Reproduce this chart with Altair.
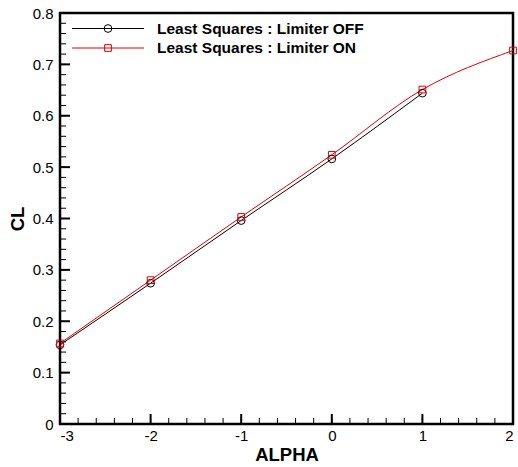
import altair as alt
import numpy as np
import pandas as pd

# Lift coefficient vs angle of attack for the two reconstruction settings
alpha_off = [-3, -2, -1, 0, 1]
cl_off = [0.154, 0.274, 0.396, 0.516, 0.644]

alpha_on = [-3, -2, -1, 0, 1, 2]
cl_on = [0.157, 0.280, 0.403, 0.524, 0.651, 0.727]

series_names = ["Least Squares : Limiter OFF", "Least Squares : Limiter ON"]
series_colors = ["#000000", "#e00000"]

x_major = [-3, -2, -1, 0, 1, 2]
y_major = [0, 0.1, 0.2, 0.3, 0.4, 0.5, 0.6, 0.7, 0.8]
x_minor = [round(v, 2) for v in np.arange(-3, 2.001, 0.2)]
y_minor = [round(v, 2) for v in np.arange(0, 0.801, 0.02)]

W, H = 453, 411
FONT = "Liberation Sans"

off_df = pd.DataFrame({"alpha": alpha_off, "cl": cl_off})
on_df = pd.DataFrame({"alpha": alpha_on, "cl": cl_on})

x_scale = alt.Scale(domain=[-3, 2], nice=False, zero=False)
y_scale = alt.Scale(domain=[0, 0.8], nice=False, zero=False)

x_axis = alt.Axis(values=x_major, labelExpr="datum.value + ''", labelFontSize=15,
                  labelFont=FONT, labelColor="#000", labelPadding=4,
                  title="ALPHA", titleFont=FONT, titleFontSize=18.5,
                  titleFontWeight="bold", titleColor="#000", titlePadding=2)
y_axis = alt.Axis(values=y_major, labelExpr="datum.value + ''", labelFontSize=15,
                  labelFont=FONT, labelColor="#000", labelPadding=7,
                  title="CL", titleFont=FONT, titleFontSize=18.5,
                  titleFontWeight="bold", titleColor="#000", titlePadding=5)

X = alt.X("alpha:Q", scale=x_scale, axis=x_axis)
Y = alt.Y("cl:Q", scale=y_scale, axis=y_axis)

# inward-pointing ticks along the bottom and left frame
xt_major = alt.Chart(pd.DataFrame({"alpha": x_major})).mark_rule(
    color="#000", strokeWidth=2).encode(x=X, y=alt.value(H), y2=alt.value(H - 10))
xt_minor = alt.Chart(pd.DataFrame({"alpha": x_minor})).mark_rule(
    color="#000", strokeWidth=1).encode(x=X, y=alt.value(H), y2=alt.value(H - 6))
yt_major = alt.Chart(pd.DataFrame({"cl": y_major})).mark_rule(
    color="#000", strokeWidth=2).encode(y=Y, x=alt.value(0), x2=alt.value(10))
yt_minor = alt.Chart(pd.DataFrame({"cl": y_minor})).mark_rule(
    color="#000", strokeWidth=1).encode(y=Y, x=alt.value(0), x2=alt.value(6))

line_off = alt.Chart(off_df).mark_line(
    color=series_colors[0], strokeWidth=1, interpolate="monotone").encode(x=X, y=Y)
pts_off = alt.Chart(off_df).mark_point(
    shape="circle", size=60, filled=False, color=series_colors[0],
    strokeWidth=1, opacity=1).encode(x=X, y=Y)
line_on = alt.Chart(on_df).mark_line(
    color=series_colors[1], strokeWidth=1, interpolate="monotone").encode(x=X, y=Y)
pts_on = alt.Chart(on_df).mark_point(
    shape="square", size=45, filled=False, color=series_colors[1],
    strokeWidth=1, opacity=1).encode(x=X, y=Y)

# legend: line sample with marker, followed by bold label
legend_layers = []
for i, (name, col, shape, size) in enumerate(
        zip(series_names, series_colors, ["circle", "square"], [60, 45])):
    ly = 15.5 + 19.5 * i
    ldf = pd.DataFrame({"label": [name]})
    base = alt.Chart(ldf)
    legend_layers.append(base.mark_rule(color=col, strokeWidth=1).encode(
        x=alt.value(12), x2=alt.value(84), y=alt.value(ly)))
    legend_layers.append(base.mark_point(
        shape=shape, size=size, filled=False, color=col, strokeWidth=1, opacity=1
    ).encode(x=alt.value(48), y=alt.value(ly)))
    legend_layers.append(base.mark_text(
        align="left", baseline="middle", font=FONT, fontSize=15.5,
        fontWeight="bold", color="#000").encode(
        x=alt.value(97), y=alt.value(ly), text="label:N"))

chart = alt.layer(
    xt_minor, xt_major, yt_minor, yt_major,
    line_off, line_on, pts_off, pts_on, *legend_layers
).properties(
    width=W, height=H,
    autosize=alt.AutoSizeParams(type="none"),
    padding={"left": 60, "top": 13, "right": 5, "bottom": 43},
    background="white",
).configure_view(
    stroke="#000", strokeWidth=2.5
).configure_axis(
    grid=False, domain=False, ticks=False
)

chart.save("out.html", embed_options={"renderer": "svg", "actions": False})
